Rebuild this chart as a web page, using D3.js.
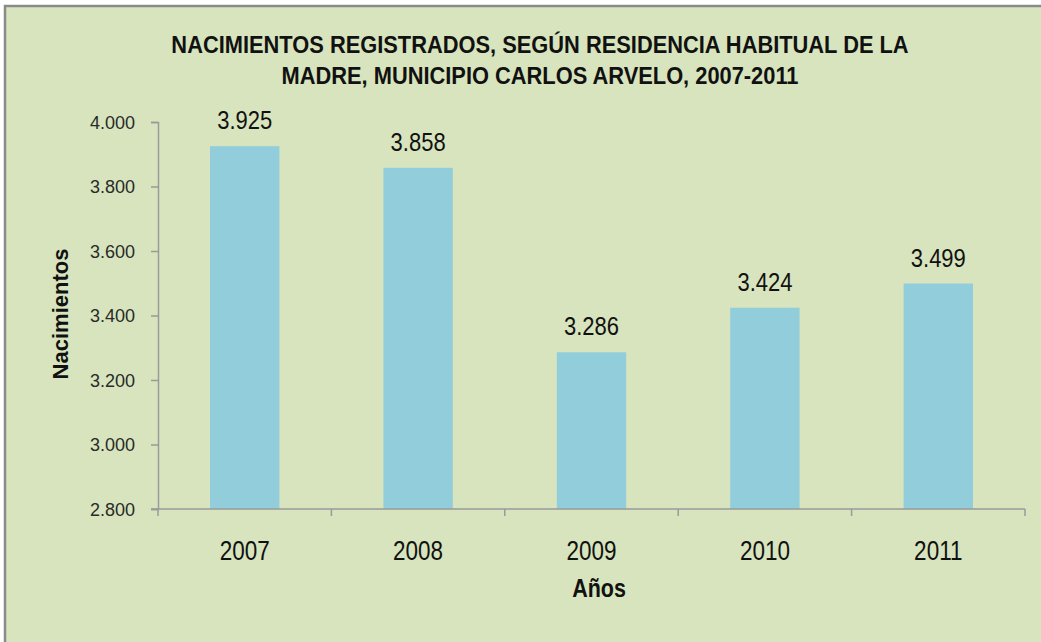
<!DOCTYPE html>
<html><head><meta charset="utf-8">
<script src="https://cdn.jsdelivr.net/npm/d3@7"></script>
<style>body{margin:0;background:#fff}svg{display:block}</style>
</head><body>
<script>
const years = ["2007","2008","2009","2010","2011"];
const births = [3925, 3858, 3286, 3424, 3499];
const yTicks = [2800, 3000, 3200, 3400, 3600, 3800, 4000];
const titleLines = ["NACIMIENTOS REGISTRADOS, SEGÚN RESIDENCIA HABITUAL DE LA", "MADRE, MUNICIPIO CARLOS ARVELO, 2007-2011"];

const W = 1041, H = 642;
const svg = d3.select("body").append("svg").attr("width", W).attr("height", H);
svg.append("rect").attr("x",5).attr("y",6).attr("width",W).attr("height",H).attr("fill","#D7E4BD")
  .attr("stroke","#8a8a8a").attr("stroke-width",2.5);

const fmt = v => d3.format(",")(v).replace(/,/g, ".");
const x = d3.scaleBand().domain(years).range([158, 1025]).paddingInner(0.6).paddingOuter(0.3);
const y = d3.scaleLinear().domain([2800, 4000]).range([509, 122]);
const ff = "'Liberation Sans',Arial,sans-serif";

svg.append("g").selectAll("text").data(titleLines).join("text")
  .attr("transform",(d,i)=>`translate(540,${53 + i*31}) scale(0.95,1.02)`).attr("text-anchor","middle")
  .attr("font-family", ff).attr("font-weight","bold").attr("font-size", 23).attr("fill","#111")
  .text(d=>d);

svg.append("g").selectAll("rect").data(births).join("rect")
  .attr("x",(d,i)=>x(years[i])).attr("width",x.bandwidth())
  .attr("y",d=>y(d)).attr("height",d=>y(2800)-y(d)).attr("fill","#92CDDC");

svg.append("g").selectAll("text").data(births).join("text")
  .attr("transform",(d,i)=>`translate(${x(years[i])+x.bandwidth()/2},${y(d)-17}) scale(1,1.2)`)
  .attr("text-anchor","middle").attr("font-family",ff)
  .attr("font-size",22).attr("fill","#111").text(fmt);

const yAxis = svg.append("g").attr("transform","translate(158,0)")
  .call(d3.axisLeft(y).tickValues(yTicks).tickFormat(fmt).tickSize(7).tickPadding(16));
yAxis.select(".domain").attr("stroke","#9a9a9a").attr("stroke-width",1.5);
yAxis.selectAll(".tick line").attr("stroke","#9a9a9a").attr("stroke-width",1.5);
yAxis.selectAll("text").attr("font-family",ff).attr("font-size",18).attr("fill","#2a2a2a").attr("dy","0.36em");

// x axis
const xg = svg.append("g");
xg.append("line").attr("x1",151).attr("x2",1025).attr("y1",509).attr("y2",509).attr("stroke","#9a9a9a").attr("stroke-width",1.5);
const bounds = [158].concat(years.map(d=>x(d)+x.bandwidth()/2 + x.step()/2));
xg.selectAll("line.t").data(bounds).join("line").attr("class","t")
  .attr("x1",d=>d).attr("x2",d=>d).attr("y1",509).attr("y2",516).attr("stroke","#9a9a9a").attr("stroke-width",1.5);
xg.selectAll("text").data(years).join("text")
  .attr("transform",d=>`translate(${x(d)+x.bandwidth()/2},560) scale(1,1.24)`).attr("text-anchor","middle")
  .attr("font-family",ff).attr("font-size",22.5).attr("fill","#111").text(d=>d);

svg.append("text").attr("transform","translate(599,597) scale(1,1.2)").attr("text-anchor","middle")
  .attr("font-family",ff).attr("font-weight","bold").attr("font-size",21.5).attr("fill","#111").text("Años");
svg.append("text").attr("transform","translate(68,314) rotate(-90)").attr("text-anchor","middle")
  .attr("font-family",ff).attr("font-weight","bold").attr("font-size",22).attr("fill","#111").text("Nacimientos");
</script>
</body></html>
